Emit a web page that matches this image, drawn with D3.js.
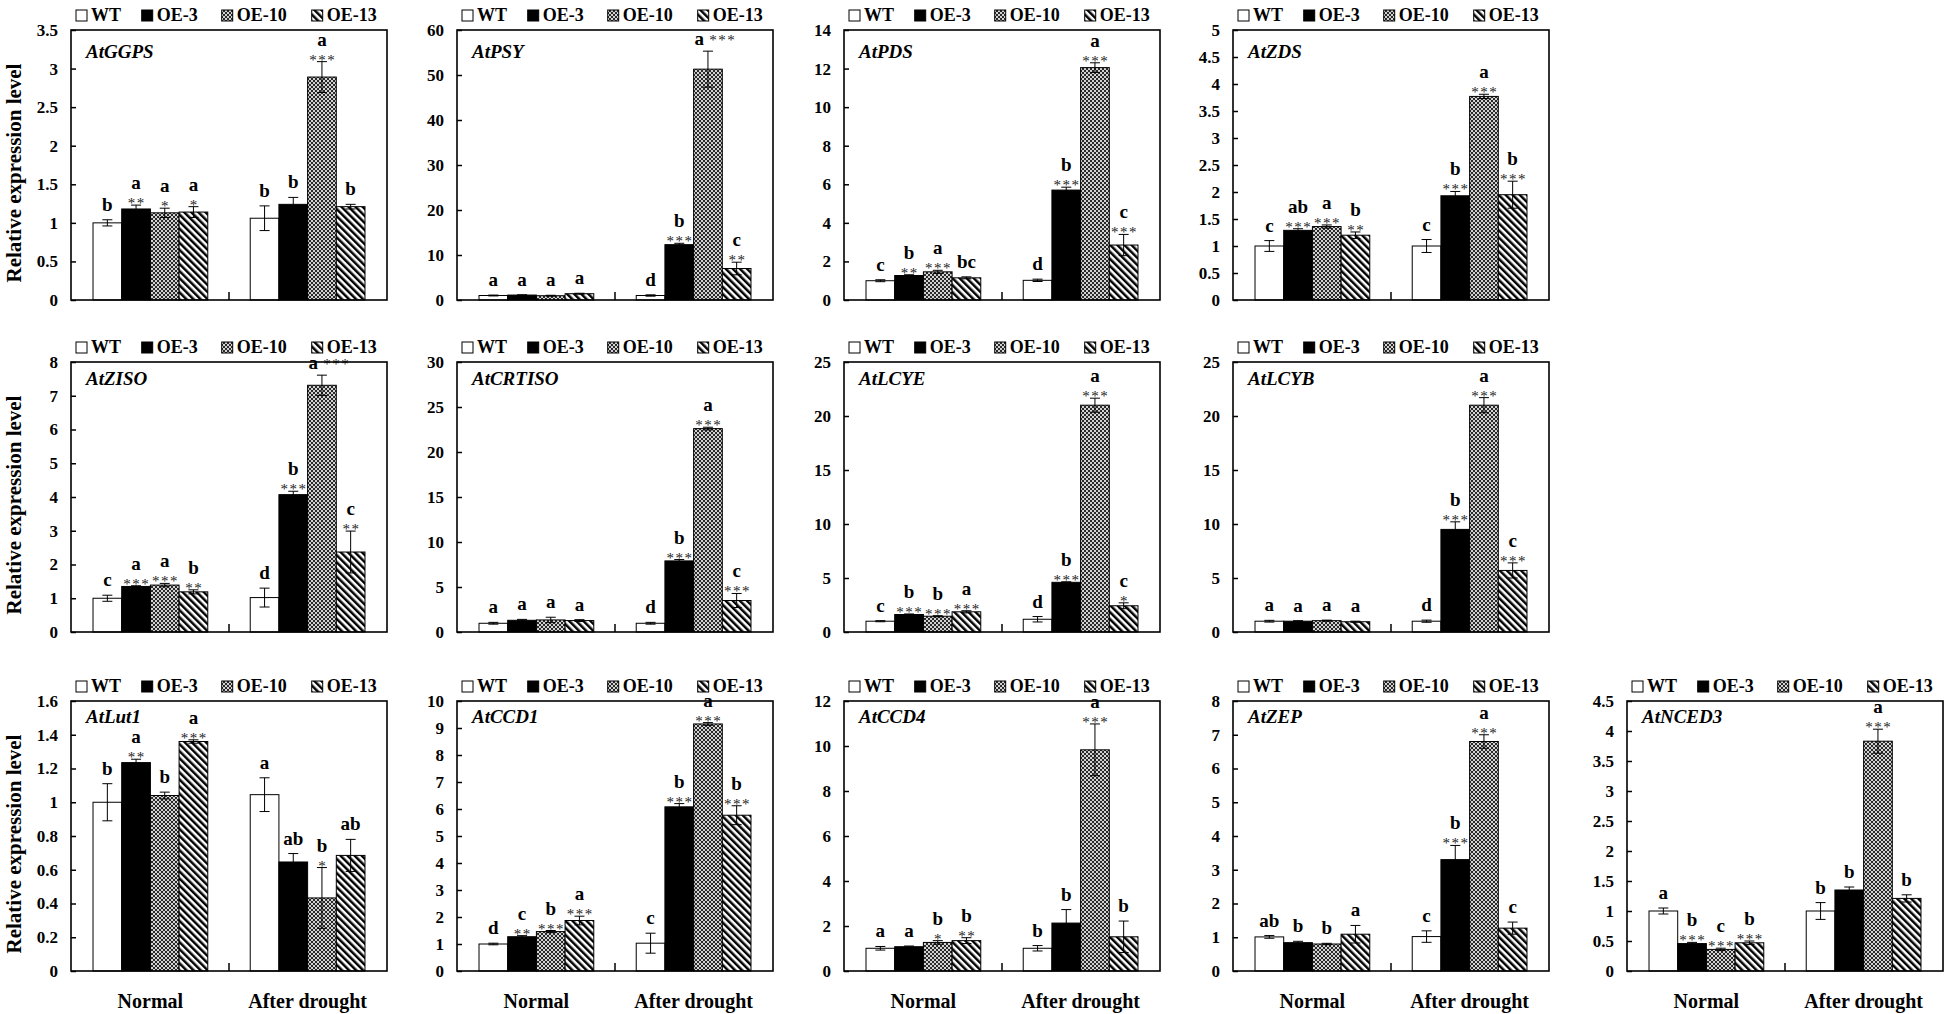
<!DOCTYPE html>
<html><head><meta charset="utf-8">
<script src="https://cdn.jsdelivr.net/npm/d3@7"></script>
<style>body{margin:0;background:#fff}svg{display:block}text{font-family:"Liberation Serif","Times New Roman",serif}</style>
</head><body>
<svg id="c" width="1944" height="1014" font-family="Liberation Serif, serif"></svg>
<script>
const genes = ["AtGGPS","AtPSY","AtPDS","AtZDS","AtZISO","AtCRTISO","AtLCYE","AtLCYB","AtLut1","AtCCD1","AtCCD4","AtZEP","AtNCED3"];
const conditions = ["Normal","After drought"];
const lines = ["WT","OE-3","OE-10","OE-13"];
const yMax  = [3.5, 60, 14, 5, 8, 30, 25, 25, 1.6, 10, 12, 8, 4.5];
const yStep = [0.5, 10, 2, 0.5, 1, 5, 5, 5, 0.2, 1, 2, 1, 0.5];
// per gene: Normal WT, OE-3, OE-10, OE-13, After drought WT, OE-3, OE-10, OE-13
const meanValues = [
 [1.00,1.18,1.13,1.14, 1.06,1.24,2.89,1.21],
 [1.0,1.1,0.95,1.4, 1.0,12.3,51.3,7.0],
 [1.0,1.27,1.46,1.15, 1.02,5.7,12.05,2.85],
 [1.0,1.29,1.36,1.2, 1.0,1.93,3.77,1.95],
 [1.0,1.35,1.39,1.19, 1.02,4.07,7.31,2.37],
 [0.97,1.3,1.34,1.27, 0.97,7.9,22.6,3.5],
 [1.0,1.62,1.46,1.87, 1.18,4.6,21.0,2.43],
 [1.0,1.0,1.05,0.95, 1.0,9.5,21.0,5.7],
 [1.0,1.235,1.04,1.36, 1.045,0.646,0.433,0.685],
 [1.0,1.27,1.46,1.87, 1.03,6.08,9.15,5.77],
 [1.01,1.08,1.27,1.35, 1.01,2.13,9.83,1.52],
 [1.01,0.84,0.8,1.09, 1.02,3.3,6.8,1.27],
 [1.0,0.457,0.36,0.47, 1.0,1.35,3.83,1.21]
];
const errValues = [
 [0.04,0.05,0.06,0.07, 0.16,0.09,0.2,0.03],
 [0.1,0.05,0.1,0.1, 0.15,0.3,4.0,1.4],
 [0.05,0.04,0.08,0.05, 0.06,0.15,0.25,0.55],
 [0.1,0.03,0.03,0.06, 0.12,0.08,0.04,0.25],
 [0.09,0.02,0.05,0.06, 0.28,0.1,0.3,0.62],
 [0.1,0.1,0.3,0.1, 0.1,0.15,0.15,0.78],
 [0.05,0.05,0.05,0.1, 0.25,0.05,0.65,0.27],
 [0.08,0.05,0.05,0.05, 0.1,0.7,0.7,0.7],
 [0.11,0.02,0.02,0.01, 0.1,0.05,0.18,0.095],
 [0.03,0.04,0.04,0.16, 0.37,0.12,0.05,0.35],
 [0.08,0.03,0.08,0.13, 0.12,0.6,1.15,0.7],
 [0.04,0.04,0.02,0.26, 0.17,0.42,0.2,0.18],
 [0.05,0.02,0.02,0.03, 0.14,0.05,0.2,0.06]
];
const letterLabels = [
 ["b","a","a","a","b","b","a","b"],
 ["a","a","a","a","d","b","a","c"],
 ["c","b","a","bc","d","b","a","c"],
 ["c","ab","a","b","c","b","a","b"],
 ["c","a","a","b","d","b","a","c"],
 ["a","a","a","a","d","b","a","c"],
 ["c","b","b","a","d","b","a","c"],
 ["a","a","a","a","d","b","a","c"],
 ["b","a","b","a","a","ab","b","ab"],
 ["d","c","b","a","c","b","a","b"],
 ["a","a","b","b","b","b","a","b"],
 ["ab","b","b","a","c","b","a","c"],
 ["a","b","c","b","b","b","a","b"]
];
const starLabels = [
 ["","**","*","*","","","***",""],
 ["","","","","","***","***","**"],
 ["","**","***","","","***","***","***"],
 ["","***","***","**","","***","***","***"],
 ["","***","***","**","","***","***","**"],
 ["","","","","","***","***","***"],
 ["","***","***","***","","***","***","*"],
 ["","","","","","***","***","***"],
 ["","**","","***","","","*",""],
 ["","**","***","***","","***","***","***"],
 ["","","*","**","","","***",""],
 ["","","","","","***","***",""],
 ["","***","***","***","","","***",""]
];
const inlineLabels = [[1,6],[4,6]];

const FONT = '"Liberation Serif", serif';
const svg = d3.select("#c");
const defs = svg.append("defs");
const pc = defs.append("pattern").attr("id","chk").attr("patternUnits","userSpaceOnUse").attr("width",4).attr("height",4);
pc.append("rect").attr("width",4).attr("height",4).attr("fill","#d2d2d2");
pc.append("rect").attr("width",2).attr("height",2).attr("fill","#2a2a2a");
pc.append("rect").attr("x",2).attr("y",2).attr("width",2).attr("height",2).attr("fill","#2a2a2a");
const ps = defs.append("pattern").attr("id","str").attr("patternUnits","userSpaceOnUse").attr("width",5).attr("height",5).attr("patternTransform","rotate(-45)");
ps.append("rect").attr("width",5).attr("height",5).attr("fill","#fff");
ps.append("rect").attr("width",2.5).attr("height",5).attr("fill","#000");
const fills = ["#fff","#000","url(#chk)","url(#str)"];

const colLeft = [71,457,844,1233,1627], colW = 316;
const rowTop = [30,362,701], rowH = 270;
const geneBaseline = [28, 23, 22];
const legendOff = [5, 70.7, 150.7, 240.7];

genes.forEach((gene, gi) => {
  const row = gi < 4 ? 0 : gi < 8 ? 1 : 2;
  const col = gi < 4 ? gi : gi < 8 ? gi - 4 : gi - 8;
  const L = colLeft[col], T = rowTop[row];
  const g = svg.append("g").attr("transform", `translate(${L},${T})`);
  const y = d3.scaleLinear().domain([0, yMax[gi]]).range([rowH, 0]);
  const x0 = d3.scaleBand().domain(conditions).range([0, colW]).paddingInner(0.27).paddingOuter(0.14);
  const x1 = d3.scaleBand().domain(lines).range([0, x0.bandwidth()]);
  const ticks = d3.range(0, yMax[gi] + yStep[gi] / 2, yStep[gi]).map(v => Math.round(v * 100) / 100);
  const ax = g.append("g").call(d3.axisLeft(y).tickValues(ticks).tickSizeInner(-5).tickSizeOuter(0).tickPadding(13).tickFormat(d => String(d)));
  ax.attr("font-family", FONT);
  ax.select(".domain").remove();
  ax.selectAll(".tick line").attr("stroke", "#000").attr("stroke-width", 1.5);
  ax.selectAll("text").attr("font-size", 17).attr("font-weight", "bold").attr("fill", "#000");

  const data = [];
  conditions.forEach((c, ci) => lines.forEach((l, li) => {
    const k = ci * 4 + li;
    data.push({c, l, li, k, v: meanValues[gi][k], e: errValues[gi][k], lt: letterLabels[gi][k], st: starLabels[gi][k]});
  }));
  const bx = d => x0(d.c) + x1(d.l);
  const bw = x1.bandwidth();
  g.selectAll("rect.bar").data(data).join("rect").attr("class","bar")
    .attr("x", bx).attr("width", bw).attr("y", d => y(d.v)).attr("height", d => rowH - y(d.v))
    .attr("fill", d => fills[d.li]).attr("stroke", "#000").attr("stroke-width", 1);
  const eg = g.selectAll("g.err").data(data).join("g").attr("class","err").attr("stroke","#000").attr("stroke-width",1);
  eg.append("line").attr("x1", d => bx(d) + bw/2).attr("x2", d => bx(d) + bw/2).attr("y1", d => y(d.v + d.e)).attr("y2", d => y(Math.max(0, d.v - d.e)));
  eg.append("line").attr("x1", d => bx(d) + bw/2 - 5).attr("x2", d => bx(d) + bw/2 + 5).attr("y1", d => y(d.v + d.e)).attr("y2", d => y(d.v + d.e));
  eg.append("line").attr("x1", d => bx(d) + bw/2 - 5).attr("x2", d => bx(d) + bw/2 + 5).attr("y1", d => y(Math.max(0, d.v - d.e))).attr("y2", d => y(Math.max(0, d.v - d.e)));
  data.forEach(d => {
    const top = y(d.v + d.e);
    const cx = bx(d) + bw/2;
    const inl = inlineLabels.some(p => p[0] === gi && p[1] === d.k);
    if (inl) {
      const t = g.append("text").attr("x", bx(d) + 1).attr("y", top - 6);
      t.append("tspan").text(d.lt).attr("font-size", 19).attr("font-weight", "bold");
      t.append("tspan").text(" " + d.st).attr("font-size", 15).attr("letter-spacing", 1.5).attr("fill", "#222");
      return;
    }
    if (d.st) {
      g.append("text").attr("x", cx + 0.75).attr("y", top + 3).attr("text-anchor","middle")
        .attr("font-size",15).attr("letter-spacing",1.5).attr("fill","#222").text(d.st);
      g.append("text").attr("x", cx).attr("y", top - 16).attr("text-anchor","middle")
        .attr("font-size",19).attr("font-weight","bold").text(d.lt);
    } else {
      g.append("text").attr("x", cx).attr("y", top - 9).attr("text-anchor","middle").attr("font-size",19).attr("font-weight","bold").text(d.lt);
    }
  });
  const mid = (x0(conditions[0]) + x0.bandwidth() + x0(conditions[1])) / 2;
  g.append("line").attr("x1", mid).attr("x2", mid).attr("y1", rowH).attr("y2", rowH - 8).attr("stroke","#000").attr("stroke-width",1.5);
  g.append("rect").attr("width", colW).attr("height", rowH).attr("fill","none").attr("stroke","#000").attr("stroke-width",1.6);
  g.append("text").attr("x", 15).attr("y", geneBaseline[row]).attr("font-size", 19).attr("font-weight","bold").attr("font-style","italic").text(gene);
  lines.forEach((l, li) => {
    g.append("rect").attr("x", legendOff[li]).attr("y", -20).attr("width", 11).attr("height", 11)
      .attr("fill", fills[li]).attr("stroke","#000").attr("stroke-width",1);
    g.append("text").attr("x", legendOff[li] + 15).attr("y", -9).attr("font-size", 18).attr("font-weight","bold").text(l);
  });
  if (row === 2) {
    conditions.forEach(c => {
      g.append("text").attr("x", x0(c) + x0.bandwidth()/2).attr("y", rowH + 37).attr("text-anchor","middle")
        .attr("font-size", 20).attr("font-weight","bold").text(c);
    });
  }
  if (col === 0) {
    svg.append("text").attr("transform", `translate(21,${T + rowH/2 + 8}) rotate(-90)`).attr("text-anchor","middle")
      .attr("font-size", 21).attr("font-weight","bold").text("Relative expression level");
  }
});
</script>
</body></html>
